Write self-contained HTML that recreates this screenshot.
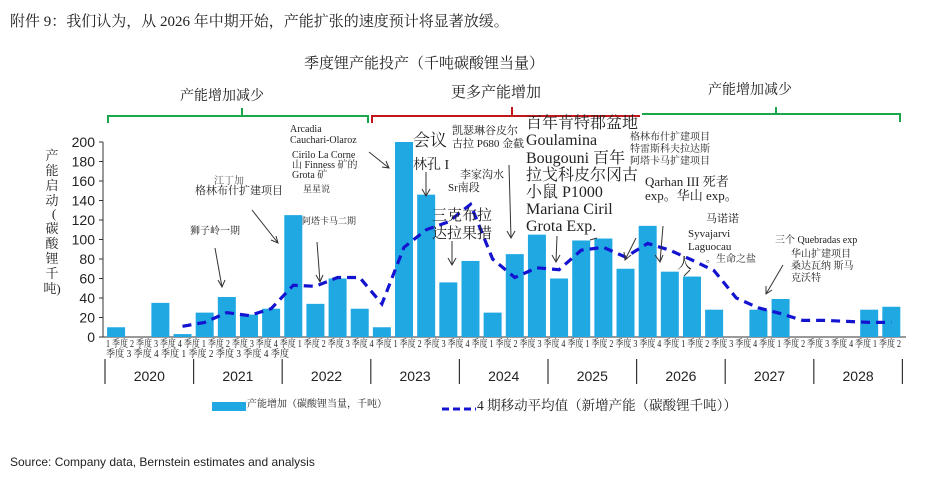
<!DOCTYPE html>
<html><head><meta charset="utf-8"><style>
html,body{margin:0;padding:0;background:#fff;width:927px;height:494px;overflow:hidden}
svg{display:block}
.s{font-family:"Liberation Serif","Noto Serif CJK SC",serif;fill:#222}
.a{font-family:"Liberation Sans","Noto Sans CJK SC",sans-serif;fill:#222}
</style></head><body>
<svg id="chart" width="927" height="494" viewBox="0 0 927 494">
<text class="s" x="10" y="26" font-size="15">附件 9：我们认为，从 2026 年中期开始，产能扩张的速度预计将显著放缓。</text>
<text class="s" x="424" y="68" font-size="15" text-anchor="middle">季度锂产能投产（千吨碳酸锂当量）</text>
<g>
<text class="s" x="222" y="100" font-size="14" text-anchor="middle">产能增加减少</text>
<text class="s" x="496" y="97" font-size="15" text-anchor="middle">更多产能增加</text>
<text class="s" x="750" y="94" font-size="14" text-anchor="middle">产能增加减少</text>
<path d="M108,123 V116 H368 V123 M242,116 V108" stroke="#1aa64a" stroke-width="2" fill="none"/>
<path d="M372,123 V116 H640 M512,116 V107" stroke="#c0161c" stroke-width="2" fill="none"/>
<path d="M642,114 H900 V122 M776,114 V107" stroke="#1aa64a" stroke-width="2" fill="none"/>
</g>
<g id="yaxis"></g>
<g id="bars"></g>
<path id="ma" fill="none" stroke="#1414d0" stroke-width="3.2" stroke-dasharray="9,6"/>
<g>
<text class="s" font-size="13" x="52" y="160" text-anchor="middle">产</text>
<text class="s" font-size="13" x="52" y="175" text-anchor="middle">能</text>
<text class="s" font-size="13" x="52" y="190" text-anchor="middle">启</text>
<text class="s" font-size="13" x="52" y="205" text-anchor="middle">动</text>
<text class="s" font-size="13" x="54" y="218" text-anchor="middle">(</text>
<text class="s" font-size="13" x="52" y="233" text-anchor="middle">碳</text>
<text class="s" font-size="13" x="52" y="248" text-anchor="middle">酸</text>
<text class="s" font-size="13" x="52" y="263" text-anchor="middle">锂</text>
<text class="s" font-size="13" x="52" y="278" text-anchor="middle">千</text>
<text class="s" font-size="13" x="52" y="293" text-anchor="middle">吨)</text>
</g>
<g>
<text class="s" font-size="10" x="106" y="347" textLength="795" lengthAdjust="spacingAndGlyphs">1 季度 2 季度 3 季度 4 季度 1 季度 2 季度 3 季度 4 季度 1 季度 2 季度 3 季度 4 季度 1 季度 2 季度 3 季度 4 季度 1 季度 2 季度 3 季度 4 季度 1 季度 2 季度 3 季度 4 季度 1 季度 2 季度 3 季度 4 季度 1 季度 2 季度 3 季度 4 季度 1 季度 2</text>
<text class="s" font-size="10" x="106" y="357" textLength="183" lengthAdjust="spacingAndGlyphs">季度 3 季度 4 季度 1 季度 2 季度 3 季度 4 季度</text>
</g>
<g id="years"></g>
<g class="s">
<text font-size="10" x="190" y="234">狮子岭一期</text>
<text font-size="10" x="214" y="184" fill="#555">江丁加</text>
<text font-size="11" x="195" y="194">格林布什扩建项目</text>
<text font-size="10" x="290" y="132">Arcadia</text>
<text font-size="10" x="290" y="143">Cauchari-Olaroz</text>
<text font-size="10" x="292" y="158">Cirilo La Corne</text>
<text font-size="10" x="292" y="168">山 Finness 矿的</text>
<text font-size="10" x="292" y="178">Grota 矿</text>
<text font-size="9" x="303" y="192">星星说</text>
<text font-size="9" x="302" y="224">阿塔卡马二期</text>
<text font-size="17" x="413" y="146">会议</text>
<text font-size="11" x="452" y="134">凯瑟琳谷皮尔</text>
<text font-size="11" x="452" y="147">古拉 P680 金截</text>
<text font-size="14" x="413" y="169">林孔 I</text>
<text font-size="11" x="460" y="178">李家沟水</text>
<text font-size="11" x="448" y="191">Sr南段</text>
<text font-size="15" x="432" y="220">三克布拉</text>
<text font-size="15" x="432" y="238">达拉果措</text>
<text font-size="16" x="526" y="128">百年肯特郡盆地</text>
<text font-size="16" x="526" y="145">Goulamina</text>
<text font-size="16" x="526" y="163">Bougouni 百年</text>
<text font-size="16" x="526" y="180">拉戈科皮尔冈古</text>
<text font-size="16" x="526" y="197">小鼠 P1000</text>
<text font-size="16" x="526" y="214">Mariana Ciril</text>
<text font-size="16" x="526" y="231">Grota Exp.</text>
<text font-size="10" x="630" y="140">格林布什扩建项目</text>
<text font-size="10" x="630" y="152">特雷斯科夫拉达斯</text>
<text font-size="10" x="630" y="164">阿塔卡马扩建项目</text>
<text font-size="13" x="645" y="186">Qarhan III 死者</text>
<text font-size="13" x="645" y="200">exp。华山 exp。</text>
<text font-size="11" x="706" y="222">马诺诺</text>
<text font-size="11" x="688" y="237">Syvajarvi</text>
<text font-size="11" x="688" y="250">Laguocau</text>
<text font-size="10" x="706" y="262">。生命之盐</text>
<text font-size="15" x="677" y="268">人</text>
<text font-size="10" x="775" y="243">三个 Quebradas exp</text>
<text font-size="10" x="791" y="257">华山扩建项目</text>
<text font-size="10" x="791" y="269">桑达瓦纳 斯马</text>
<text font-size="10" x="791" y="281">克沃特</text>
</g>
<g stroke="#333" stroke-width="1" fill="none">
<path d="M215,248 L222,287 M218,280 L222,287 L225,280"/>
<path d="M252,210 L278,243 M271,240 L278,243 L276,236"/>
<path d="M317,242 L320,282 M316,275 L320,282 L323,275"/>
<path d="M369,152 L389,168 M382,167 L389,168 L386,161"/>
<path d="M426,172 L426,196 M422,189 L426,196 L430,189"/>
<path d="M452,241 L452,265 M448,258 L452,265 L456,258"/>
<path d="M509,165 L511,238 M507,231 L511,238 L515,231"/>
<path d="M557,236 L556,262 M552,255 L556,262 L560,255"/>
<path d="M597,238 L590,240"/>
<path d="M636,238 L625,260 M624,252 L625,260 L631,255"/>
<path d="M663,226 L660,262 M655,255 L660,262 L663,255"/>
<path d="M690,270 L684,276"/>
<path d="M783,265 L766,294 M766,286 L766,294 L772,290"/>
</g>
<g>
<rect x="212" y="402" width="34" height="9" fill="#1fa8e2"/>
<text class="s" font-size="10" x="247" y="407">产能增加（碳酸锂当量，千吨）</text>
<path d="M442,409 H476" stroke="#1414d0" stroke-width="3" stroke-dasharray="7,4"/>
<text class="s" font-size="13.5" x="477" y="410">4 期移动平均值（新增产能（碳酸锂千吨））</text>
</g>
<text class="a" font-size="12" x="10" y="466">Source: Company data, Bernstein estimates and analysis</text>
</svg>
<script>
const quarters = ["2020Q1","2020Q2","2020Q3","2020Q4","2021Q1","2021Q2","2021Q3","2021Q4","2022Q1","2022Q2","2022Q3","2022Q4","2023Q1","2023Q2","2023Q3","2023Q4","2024Q1","2024Q2","2024Q3","2024Q4","2025Q1","2025Q2","2025Q3","2025Q4","2026Q1","2026Q2","2026Q3","2026Q4","2027Q1","2027Q2","2027Q3","2027Q4","2028Q1","2028Q2","2028Q3","2028Q4"];
const capacityAdds = [10,0,35,3, 25,41,23,29, 125,34,60,29, 10,200,146,56, 78,25,85,105, 60,99,101,70, 114,67,62,28, 0,28,39,0, 0,0,28,31];
const movingAvg = [null,null,null,11, 15,25,22,29, 53,52,61,61, 34,92,110,118, 136,80,61,71, 69,89,92,82, 96,89,79,68, 40,30,24,17, 17,16,15,15];
const years = ["2020","2021","2022","2023","2024","2025","2026","2027","2028"];
const yTicks = [0,20,40,60,80,100,120,140,160,180,200];

const NS="http://www.w3.org/2000/svg";
const X0=105, STEP=22.15, Y0=337, YK=0.975;
const xc=i=>X0+STEP*(i+0.5);
const yv=v=>Y0-v*YK;
function mk(t,a,p){const e=document.createElementNS(NS,t);for(const k in a)e.setAttribute(k,a[k]);p.appendChild(e);return e;}
const ya=document.getElementById('yaxis');
mk('line',{x1:103,y1:yv(200),x2:103,y2:Y0,stroke:'#333','stroke-width':1},ya);
mk('line',{x1:103,y1:Y0,x2:906,y2:Y0,stroke:'#333','stroke-width':1},ya);
yTicks.forEach(t=>{
 mk('line',{x1:99,x2:103,y1:yv(t),y2:yv(t),stroke:'#333'},ya);
 const tx=mk('text',{x:95,y:yv(t)+5,'font-size':14,'text-anchor':'end',class:'a'},ya);
 tx.textContent=t;
 
 
});
const bg=document.getElementById('bars');
capacityAdds.forEach((v,i)=>{
 if(v<=0)return;
 const r=mk('rect',{x:xc(i)-9,y:yv(v),width:18,height:v*YK,fill:'#1fa8e2'},bg);
 
 
});
let d='';
movingAvg.forEach((v,i)=>{if(v==null)return;d+=(d?' L':'M')+xc(i).toFixed(1)+','+yv(v).toFixed(1);});
document.getElementById('ma').setAttribute('d',d);
const yg=document.getElementById('years');
for(let k=0;k<=years.length;k++){
 const x=X0+STEP*4*k;
 mk('line',{x1:x,x2:x,y1:359,y2:384,stroke:'#333','stroke-width':1.2},yg);
}
years.forEach((y,k)=>{
 const t=mk('text',{x:X0+STEP*4*(k+0.5),y:381,'font-size':14,'text-anchor':'middle',class:'a'},yg);
 t.textContent=y;
 
 
});
</script>
</body></html>
